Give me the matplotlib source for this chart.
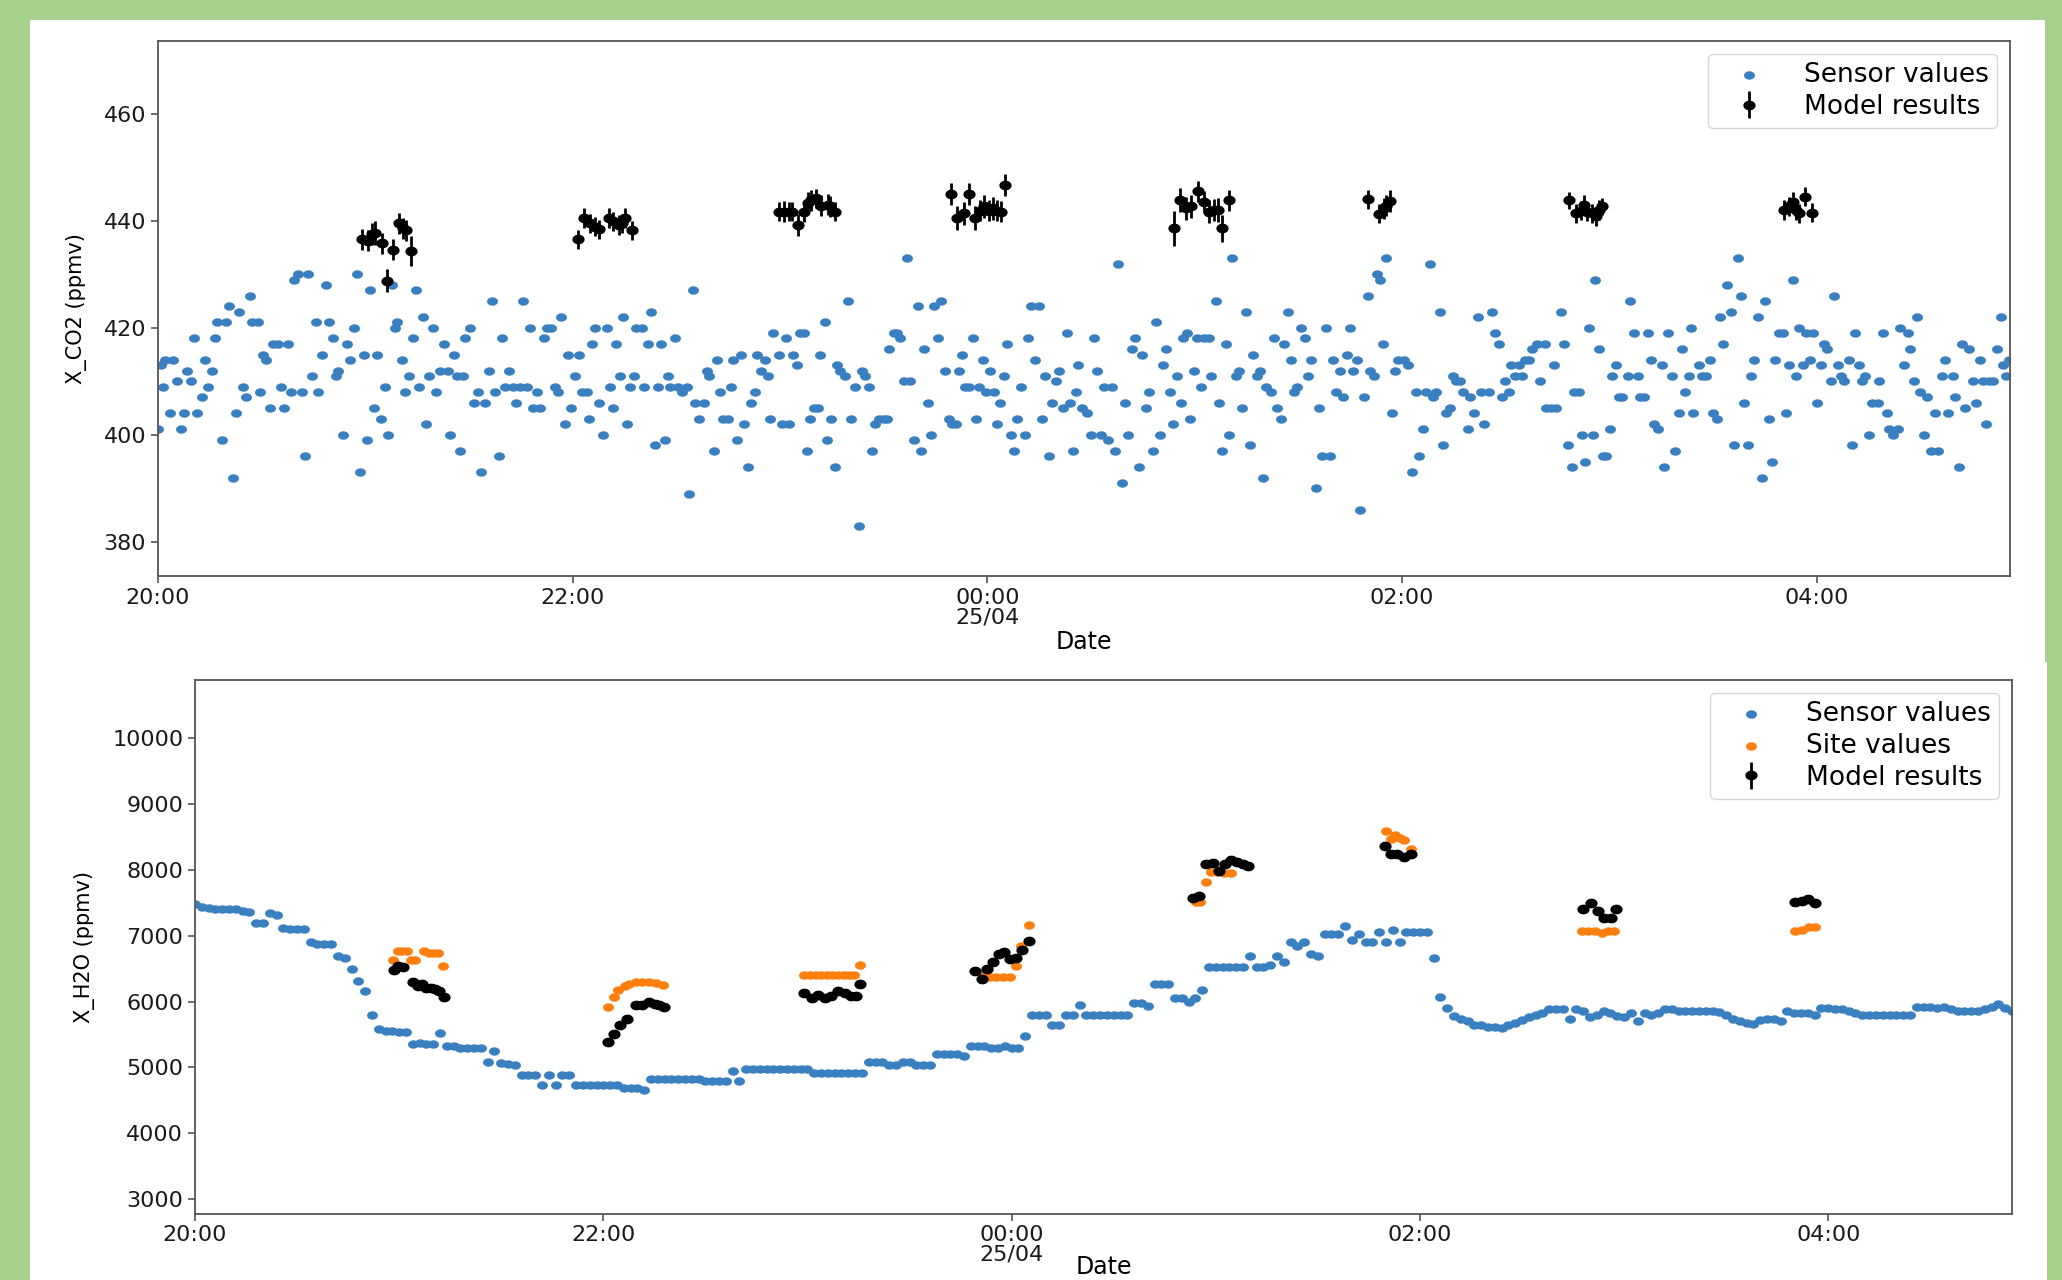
import numpy as np
import matplotlib
matplotlib.use("Agg")
import matplotlib.pyplot as plt
from matplotlib.path import Path
from matplotlib.patches import Rectangle

# ----------------------------
# Data (times in minutes after 24/04 20:00)
# ----------------------------
co2_time_min = [
    0.1, 0.9, 1.5, 2.0, 3.5, 4.4, 5.4, 6.6, 7.6, 8.5,
    9.5, 10.5, 11.4, 12.6, 13.6, 14.4, 15.7, 16.5, 17.2, 18.6,
    19.6, 20.5, 21.6, 22.6, 23.4, 24.5, 25.4, 26.5, 27.3, 28.8,
    29.5, 30.5, 31.4, 32.4, 33.4, 34.8, 35.5, 36.5, 37.5, 38.5,
    39.4, 40.6, 41.8, 42.5, 43.5, 44.6, 45.6, 46.4, 47.6, 48.5,
    49.5, 50.7, 51.5, 52.2, 53.6, 54.6, 55.5, 56.6, 57.5, 58.4,
    59.5, 60.5, 61.4, 62.5, 63.5, 64.5, 65.7, 66.6, 67.8, 68.6,
    69.3, 70.7, 71.6, 72.6, 73.7, 74.6, 75.5, 76.7, 77.7, 78.5,
    79.6, 80.6, 81.6, 82.8, 83.8, 84.5, 85.7, 86.4, 87.4, 88.3, 88.8,
    90.4, 91.6, 92.6, 93.5, 94.7, 95.7, 96.6, 97.6, 98.6, 99.7,
    100.5, 101.6, 102.6, 103.6, 104.8, 105.7, 106.9, 107.6, 108.4, 109.6,
    110.6, 111.8, 112.5, 113.8, 114.8, 115.7, 116.6, 117.7, 118.6, 119.5,
    120.7, 121.7, 122.7, 124.1, 124.6, 125.6, 126.5, 127.7, 128.8, 129.9,
    130.8, 131.8, 132.6, 133.7, 134.7, 135.7, 136.6, 137.7, 138.3, 140.0,
    140.8, 141.8, 142.6, 143.7, 144.8, 145.6, 146.8, 147.7, 148.2, 149.7,
    150.6, 151.6, 153.0, 153.6, 154.9, 155.5, 156.6, 158.0, 158.8, 159.5,
    160.9, 161.7, 162.7, 163.6, 164.9, 165.7, 166.5, 167.6, 168.6, 169.7,
    170.7, 171.7, 172.8, 173.4, 174.5, 175.7, 176.5, 177.1, 178.1,
    179.8, 180.6, 181.8, 182.7, 183.8, 184.8, 185.9, 186.9, 187.7, 188.6,
    189.8, 191.0, 191.7, 192.9, 193.7, 194.7, 195.9, 196.5, 197.5, 198.7,
    199.6, 200.7, 201.8, 202.8, 203.8, 204.7, 205.7, 206.7, 207.6, 208.6,
    210.0, 211.0, 211.7, 212.9, 213.9, 214.8, 215.8, 216.8, 217.7, 218.8,
    219.9, 220.7, 221.8, 222.9, 223.7, 224.7, 225.7, 226.7, 227.9, 228.8,
    229.8, 231.0, 231.7, 232.7, 233.7, 234.8, 235.8, 236.8, 237.7, 238.7,
    239.6, 240.7, 241.9, 242.8, 243.8, 244.8, 245.8, 246.8, 247.8, 248.7,
    249.8, 250.8, 251.7, 252.7, 253.9, 255.1, 255.8, 256.8, 257.9, 258.7,
    259.9, 260.8, 261.8, 263.0, 263.9, 264.7, 265.7, 266.4,
    267.5, 268.9, 269.9, 270.9, 271.8, 272.8, 273.8, 274.9, 276.0, 277.0,
    277.8, 278.9, 280.0, 280.8, 281.8, 282.9, 283.9, 284.9, 285.9, 286.8,
    287.9, 288.9, 289.9, 290.8, 291.8, 293.0, 293.7, 295.0, 296.0, 296.6,
    297.9, 298.8, 299.8, 300.8, 301.8, 302.7, 304.2, 304.9, 306.1, 307.0,
    308.0, 309.2, 309.9, 310.9, 312.1, 312.8, 313.8, 314.9, 315.9, 316.9,
    318.1, 318.8, 319.9, 320.8, 322.0, 322.9, 323.9, 325.1, 325.8, 326.9,
    327.9, 328.7, 329.7, 330.9, 331.9, 332.9, 333.8, 335.0, 336.0, 336.9,
    338.1, 339.1, 340.0, 341.0, 342.1, 342.9, 344.0, 344.9, 345.8, 347.1,
    347.8, 348.9, 350.1, 350.9, 351.9, 352.8, 353.8, 354.5, 355.5,
    357.1, 357.9, 359.0, 360.7, 361.9, 362.9, 364.0, 365.0, 366.0, 366.9,
    368.1, 368.9, 370.0, 371.0, 371.9, 372.9, 373.9, 374.8, 375.8, 376.8,
    377.7, 379.0, 379.7, 380.9, 381.9, 382.9, 383.8, 385.1, 386.0, 387.0,
    388.0, 389.0, 389.9, 391.1, 391.5, 392.8, 393.9, 394.9, 395.7, 396.8,
    397.8, 399.0, 399.9, 401.4, 401.7, 403.1, 403.9, 404.5, 406.0, 406.9,
    408.1, 409.1, 409.9, 411.3, 412.0, 412.9, 414.2, 415.2, 415.9, 417.1,
    418.1, 419.0, 420.1, 420.9, 422.1, 422.9, 423.8, 425.3, 425.9, 427.2,
    428.2, 428.8, 430.1, 431.2, 432.1, 433.0, 434.1, 435.2, 436.0, 437.1,
    438.1, 439.1, 440.2, 441.2, 441.9, 443.1, 443.6, 444.3,
    446.1, 446.9, 448.0, 449.2, 450.0, 451.1, 452.1, 453.0, 454.0, 455.3,
    456.2, 457.3, 458.1, 459.1, 460.3, 461.0, 462.0, 463.2, 464.1, 465.2,
    466.2, 467.1, 468.1, 469.0, 470.2, 471.2, 472.1, 473.2, 474.1, 474.8,
    476.0, 476.9, 478.1, 479.1, 480.0, 481.3, 482.3, 482.9, 484.2, 485.1,
    486.1, 487.1, 488.1, 489.3, 490.2, 491.1, 492.4, 493.2, 494.1, 495.3,
    496.2, 497.7, 498.2, 499.1, 500.3, 501.1, 502.2, 503.5, 504.1, 505.2,
    506.4, 507.2, 508.3, 509.1, 509.9, 511.2, 512.0, 513.1, 514.4, 515.3,
    516.2, 517.2, 518.2, 519.4, 520.2, 521.3, 522.1, 523.0, 524.2, 525.2,
    526.1, 527.3, 528.3, 529.0, 530.0, 531.1, 532.1, 533.4, 534.0, 534.8, 535.6,
]
co2_sensor = [
    401, 413, 409, 414, 404, 414, 410, 401, 404, 412,
    410, 418, 404, 407, 414, 409, 412, 418, 421, 399,
    421, 424, 392, 404, 423, 409, 407, 426, 421, 421,
    408, 415, 414, 405, 417, 417, 409, 405, 417, 408,
    429, 430, 408, 396, 430, 411, 421, 408, 415, 428,
    421, 418, 411, 412, 400, 417, 414, 420, 430, 393,
    415, 399, 427, 405, 415, 403, 409, 400, 428, 420,
    421, 414, 408, 411, 418, 427, 409, 422, 402, 411,
    420, 408, 412, 417, 412, 400, 415, 411, 397, 411, 418,
    420, 406, 408, 393, 406, 412, 425, 408, 396, 418,
    409, 412, 409, 406, 409, 425, 409, 420, 405, 408,
    405, 418, 420, 420, 409, 408, 422, 402, 415, 405,
    411, 415, 408, 408, 403, 417, 420, 406, 400, 420,
    409, 405, 417, 411, 422, 402, 409, 411, 420, 420,
    409, 417, 423, 398, 409, 417, 399, 411, 409, 418,
    409, 408, 409, 389, 427, 406, 403, 406, 412, 411,
    397, 414, 408, 403, 403, 409, 414, 399, 415, 402,
    394, 406, 408, 415, 412, 414, 411, 403, 419,
    415, 402, 418, 402, 415, 413, 419, 419, 397, 403,
    405, 405, 415, 421, 399, 403, 394, 413, 412, 411,
    425, 403, 409, 383, 412, 411, 409, 397, 402, 403,
    403, 403, 416, 419, 419, 418, 410, 433, 410, 399,
    424, 397, 416, 406, 400, 424, 418, 425, 412, 403,
    402, 402, 412, 415, 409, 409, 418, 403, 409, 414,
    408, 412, 408, 402, 406, 411, 417, 400, 397, 403,
    409, 400, 418, 424, 414, 424, 403, 411, 396, 406,
    410, 412, 405, 419, 406, 397, 408, 413,
    405, 404, 400, 418, 412, 400, 409, 399, 409, 397,
    432, 391, 406, 400, 416, 418, 394, 415, 405, 408,
    397, 421, 400, 413, 416, 408, 402, 411, 406, 418,
    419, 403, 412, 418, 409, 418, 418, 411, 425, 406,
    397, 417, 400, 433, 411, 412, 405, 423, 398, 415,
    411, 412, 392, 409, 408, 418, 405, 403, 417, 423,
    414, 408, 409, 420, 418, 411, 414, 390, 405, 396,
    420, 396, 414, 408, 412, 407, 415, 420, 412, 414,
    386, 407, 426, 412, 411, 430, 429, 417, 433,
    404, 412, 414, 414, 413, 393, 408, 396, 401, 408,
    432, 407, 408, 423, 398, 404, 405, 411, 410, 410,
    408, 401, 407, 404, 422, 408, 402, 408, 423, 419,
    417, 407, 410, 408, 413, 411, 413, 411, 414, 414,
    416, 417, 410, 417, 405, 405, 413, 405, 423, 417,
    398, 394, 408, 408, 400, 395, 420, 400, 429, 416,
    396, 396, 401, 411, 413, 407, 407, 411, 425, 419,
    411, 407, 407, 419, 414, 402, 401, 413, 394, 419,
    411, 397, 404, 416, 408, 411, 420, 404,
    413, 411, 411, 414, 404, 403, 422, 417, 428, 423,
    398, 433, 426, 406, 398, 411, 414, 422, 392, 425,
    403, 395, 414, 419, 419, 404, 413, 429, 411, 420,
    413, 419, 414, 419, 406, 413, 417, 416, 410, 426,
    413, 411, 410, 414, 398, 419, 413, 410, 411, 400,
    406, 406, 410, 419, 404, 401, 400, 401, 420, 413,
    419, 416, 410, 422, 408, 400, 407, 397, 404, 397,
    411, 414, 404, 411, 407, 394, 417, 405, 416, 410,
    406, 414, 410, 402, 410, 410, 416, 422, 413, 411, 414,
]

co2_model_min = [
    59.0, 60.8, 61.8, 62.8, 64.7, 66.3, 68.1, 69.7, 71.0, 71.9, 73.2,
    121.5, 123.4, 125.1, 126.5, 127.5, 130.4, 131.8, 133.3, 134.2, 135.2, 137.3,
    179.7, 181.1, 182.5, 183.5, 185.2, 186.9, 188.1, 189.1, 190.5, 192.0, 193.9, 194.6, 195.9,
    229.6, 231.2, 233.2, 234.6, 236.5, 238.0, 239.0, 240.4, 241.6, 242.8, 244.1, 245.2,
    294.0, 295.7, 297.4, 299.1, 301.1, 302.7, 304.2, 305.6, 306.9, 308.0, 309.9,
    350.3, 353.5, 354.8, 355.5, 356.7,
    408.4, 410.3, 411.8, 412.7, 413.7, 415.0, 416.3, 417.1, 418.0,
    470.7, 472.1, 473.3, 474.1, 475.0, 476.8, 478.7,
]
co2_model = [
    436.5, 436.3, 437.5, 437.7, 435.8, 428.8, 434.6, 439.5, 438.6, 438.2, 434.4,
    436.5, 440.5, 439.5, 438.9, 438.4, 440.5, 439.9, 439.2, 439.5, 440.5, 438.2,
    441.7, 441.7, 441.7, 441.7, 439.2, 441.7, 443.4, 443.8, 444.2, 442.8, 443.0, 442.7, 441.7,
    445.0, 440.5, 441.4, 445.0, 440.5, 441.9, 442.7, 441.9, 442.3, 441.9, 441.7, 446.7,
    438.6, 443.9, 442.3, 442.7, 445.5, 443.6, 441.7, 442.0, 442.0, 438.6, 443.8,
    444.0, 441.3, 442.3, 442.8, 443.7,
    443.8, 441.4, 441.9, 443.0, 441.7, 441.4, 440.8, 442.0, 442.7,
    442.0, 442.7, 443.6, 442.0, 441.4, 444.5, 441.5,
]
co2_model_err = [
    2.0, 2.0, 2.0, 2.2, 2.0, 2.2, 2.0, 2.0, 2.0, 2.0, 2.8,
    1.8, 1.8, 1.8, 1.8, 1.8, 1.8, 1.8, 1.8, 1.8, 1.8, 1.8,
    1.8, 2.0, 1.8, 1.8, 2.0, 2.0, 2.0, 2.0, 1.8, 2.0, 2.0, 2.0, 1.8,
    2.0, 2.2, 2.2, 2.0, 2.2, 2.0, 2.2, 2.0, 2.2, 2.0, 2.0, 2.0,
    3.3, 2.2, 2.2, 2.2, 2.0, 2.0, 2.2, 2.0, 2.2, 2.5, 2.0,
    1.8, 1.8, 2.0, 2.0, 2.0,
    1.6, 1.8, 1.8, 1.8, 1.8, 1.8, 1.8, 1.8, 1.6,
    1.8, 1.8, 1.8, 1.8, 1.8, 1.8, 1.8,
]

# H2O sensor logged every 2 minutes from 20:00
h2o_sensor_step_min = 2
h2o_sensor = [
    7480, 7440, 7420, 7410, 7410, 7410, 7400, 7380, 7360, 7190,
    7190, 7340, 7310, 7120, 7100, 7100, 7100, 6900, 6880, 6880,
    6880, 6690, 6670, 6500, 6320, 6160, 5800, 5580, 5560, 5560,
    5540, 5540, 5360, 5370, 5360, 5350, 5530, 5330, 5320, 5300,
    5300, 5290, 5290, 5080, 5250, 5070, 5050, 5040, 4890, 4890,
    4890, 4740, 4890, 4740, 4890, 4890, 4740, 4740, 4740, 4740,
    4740, 4740, 4740, 4690, 4690, 4690, 4650, 4830, 4830, 4830,
    4830, 4830, 4830, 4830, 4830, 4790, 4790, 4790, 4790, 4950,
    4790, 4970, 4970, 4970, 4970, 4970, 4970, 4970, 4970, 4970,
    4970, 4910, 4910, 4910, 4910, 4910, 4910, 4910, 4910, 5080,
    5080, 5080, 5040, 5040, 5080, 5080, 5040, 5040, 5040, 5200,
    5200, 5200, 5200, 5170, 5330, 5330, 5330, 5300, 5300, 5330,
    5300, 5300, 5480, 5790, 5790, 5790, 5640, 5640, 5790, 5790,
    5945, 5790, 5790, 5790, 5790, 5800, 5800, 5800, 5980, 5980,
    5930, 6270, 6270, 6270, 6050, 6050, 6000, 6050, 6175, 6520,
    6520, 6520, 6520, 6520, 6520, 6690, 6520, 6520, 6560, 6690,
    6600, 6900, 6850, 6900, 6720, 6700, 7030, 7030, 7030, 7150,
    6940, 7030, 6900, 6900, 7060, 6900, 7090, 6900, 7060, 7060,
    7060, 7060, 6670, 6070, 5900, 5780, 5730, 5700, 5640, 5640,
    5620, 5610, 5600, 5640, 5680, 5720, 5760, 5790, 5820, 5880,
    5880, 5880, 5730, 5880, 5860, 5760, 5800, 5850, 5820, 5780,
    5760, 5820, 5700, 5820, 5800, 5820, 5880, 5880, 5860, 5860,
    5860, 5860, 5860, 5860, 5840, 5800, 5740, 5700, 5680, 5660,
    5720, 5730, 5730, 5700, 5850, 5820, 5820, 5820, 5790, 5910,
    5900, 5890, 5880, 5860, 5820, 5800, 5790, 5790, 5800, 5790,
    5800, 5790, 5790, 5920, 5920, 5920, 5910, 5920, 5880, 5850,
    5850, 5860, 5850, 5880, 5920, 5960, 5900, 5860,
]

h2o_site_min = [
    58.1, 59.6, 60.9, 62.2, 63.5, 64.8, 67.4, 68.7, 70.0, 71.3, 72.9,
    121.3, 123.0, 124.4, 126.3, 127.6, 129.6, 131.5, 133.5, 135.5, 137.4,
    179.1, 180.7, 182.4, 184.0, 185.7, 187.3, 189.0, 190.6, 192.3, 193.8, 195.5,
    231.6, 233.6, 235.5, 237.5, 239.5, 241.4, 242.7, 245.0,
    294.3, 295.5, 297.2, 298.5, 300.4, 302.4, 304.4,
    350.0, 351.4, 352.7, 354.2, 355.3, 357.3,
    407.6, 409.5, 411.4, 413.4, 415.2, 417.1,
    470.3, 472.3, 474.3, 476.2,
]
h2o_site = [
    6630, 6770, 6770, 6770, 6630, 6630, 6770, 6740, 6740, 6740, 6540,
    5915, 6070, 6180, 6230, 6260, 6300, 6300, 6300, 6290, 6250,
    6400, 6400, 6400, 6400, 6400, 6400, 6400, 6400, 6400, 6400, 6550,
    6400, 6380, 6380, 6380, 6380, 6535, 6845, 7170,
    7510, 7510, 7820, 7970, 7970, 7960, 7960,
    8590, 8470, 8530, 8490, 8460, 8320,
    7070, 7070, 7070, 7040, 7070, 7070,
    7080, 7090, 7140, 7140,
]

h2o_model_min = [
    58.4, 59.8, 61.1, 64.2, 65.4, 66.7, 68.0, 69.3, 70.5, 71.8, 73.2,
    121.3, 123.0, 125.0, 127.0, 129.6, 131.5, 133.5, 135.2, 136.5, 137.8,
    179.1, 181.4, 183.1, 185.1, 187.0, 189.0, 190.9, 192.9, 194.2, 195.5,
    229.2, 231.3, 232.9, 234.6, 236.2, 237.8, 239.5, 241.4, 243.1, 245.0,
    293.2, 295.2, 297.1, 299.1, 300.8, 302.7, 304.4, 306.1, 307.9, 309.6,
    349.8, 351.6, 353.3, 355.3, 357.3,
    407.9, 410.2, 412.2, 414.2, 416.2, 417.5,
    470.3, 472.3, 474.0, 476.0,
]
h2o_model = [
    6480, 6540, 6520, 6300, 6230, 6260, 6200, 6200, 6190, 6160, 6070,
    5390, 5510, 5650, 5740, 5945, 5945, 5990, 5970, 5945, 5915,
    6130, 6050, 6100, 6060, 6090, 6160, 6125, 6090, 6090, 6270,
    6470, 6340, 6500, 6600, 6720, 6750, 6650, 6660, 6780, 6920,
    7580, 7600, 8085, 8100, 7990, 8085, 8150, 8115, 8085, 8055,
    8365, 8240, 8240, 8200, 8240,
    7400, 7500, 7370, 7265, 7265, 7400,
    7515, 7530, 7560, 7500,
]
h2o_model_err = 40

tick_min = [0, 120, 240, 360, 480]
tick_labels = ["20:00", "22:00", "00:00\n25/04", "02:00", "04:00"]
co2_yticks = [380, 400, 420, 440, 460]
h2o_yticks = [3000, 4000, 5000, 6000, 7000, 8000, 9000, 10000]

# ----------------------------
# Helpers
# ----------------------------
start = np.datetime64("2019-04-24T20:00")


def to_time(minutes):
    sec = np.round(np.asarray(minutes, dtype=float) * 60).astype("int64")
    return start + sec.astype("timedelta64[s]")


# slightly wide oval marker, as in the stretched screenshot
theta = np.linspace(0, 2 * np.pi, 41)
oval = Path(np.column_stack([1.3 * np.cos(theta), np.sin(theta)]), closed=True)

BLUE = "#3a7fbf"
ORANGE = "#ff7f0e"
GREEN = "#a9d18e"
SPINE = "#555555"
DOT = 62

W, H = 2062, 1280
fig = plt.figure(figsize=(W / 100, H / 100), dpi=100, facecolor=GREEN)
fig.add_artist(Rectangle((30 / W, 1 - 662 / H), (2045 - 30) / W, (662 - 20) / H,
                         transform=fig.transFigure, facecolor="white",
                         edgecolor="none", zorder=-1))
fig.add_artist(Rectangle((30 / W, 0), (2047 - 30) / W, 1 - 662 / H,
                         transform=fig.transFigure, facecolor="white",
                         edgecolor="none", zorder=-1))

ax1 = fig.add_axes([158 / W, 1 - 576 / H, (2010 - 158) / W, (576 - 41) / H])
ax2 = fig.add_axes([195 / W, 1 - 1213.5 / H, (2012 - 195) / W, (1213.5 - 680) / H])

# ----------------------------
# CO2 panel
# ----------------------------
ax1.scatter(to_time(co2_time_min), co2_sensor, s=DOT, marker=oval,
            color=BLUE, linewidths=0, label="Sensor values")
ax1.errorbar(to_time(co2_model_min), co2_model, yerr=co2_model_err,
             marker=oval, markersize=7.8, linestyle="none", color="black",
             elinewidth=2.0, capsize=0, label="Model results")
ax1.set_ylim(373.6, 473.6)
ax1.set_xlim(to_time(0), to_time(536))
ax1.set_yticks(co2_yticks)
ax1.set_ylabel("X_CO2 (ppmv)", fontsize=15, labelpad=12)
ax1.set_xlabel("Date", fontsize=17, labelpad=2)

# ----------------------------
# H2O panel
# ----------------------------
h2o_sensor_min = np.arange(len(h2o_sensor)) * h2o_sensor_step_min
ax2.scatter(to_time(h2o_sensor_min), h2o_sensor, s=DOT, marker=oval,
            color=BLUE, linewidths=0, label="Sensor values")
ax2.scatter(to_time(h2o_site_min), h2o_site, s=DOT, marker=oval,
            color=ORANGE, linewidths=0, label="Site values")
ax2.errorbar(to_time(h2o_model_min), h2o_model, yerr=h2o_model_err,
             marker=oval, markersize=7.8, linestyle="none", color="black",
             elinewidth=2.0, capsize=0, label="Model results")
ax2.set_ylim(2780, 10887)
ax2.set_xlim(to_time(0), to_time(534))
ax2.set_yticks(h2o_yticks)
ax2.set_ylabel("X_H2O (ppmv)", fontsize=15, labelpad=12)
# the panel is cropped right under this label in the source picture
ax2.set_xlabel("Date", fontsize=17, labelpad=-7)

for ax in (ax1, ax2):
    ax.set_xticks(to_time(tick_min))
    ax.set_xticklabels(tick_labels, linespacing=0.95)
    ax.tick_params(labelsize=16, colors="#1a1a1a", length=5, width=1.2)
    ax.tick_params(color=SPINE)
    for sp in ax.spines.values():
        sp.set_color(SPINE)
        sp.set_linewidth(1.3)
    ax.legend(loc="upper right", fontsize=19, labelspacing=0.22,
              handlelength=2.5, handletextpad=0.85, borderpad=0.3)

fig.savefig("out.png", dpi=100, facecolor=fig.get_facecolor())
plt.close(fig)
